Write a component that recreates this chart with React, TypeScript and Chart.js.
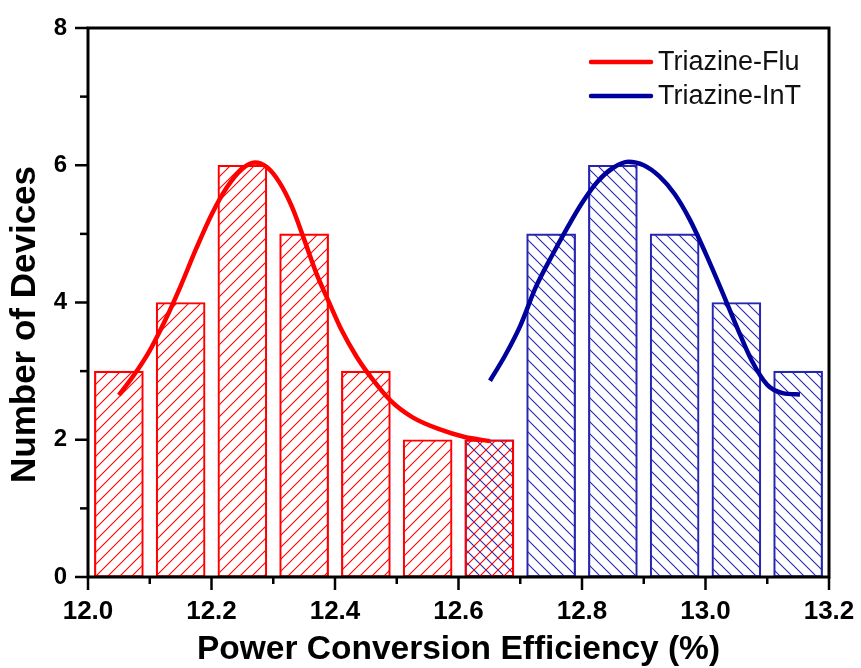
import React, { useEffect, useRef } from "react";
import { Chart, registerables } from "chart.js";

Chart.register(...registerables);

// ---- data ----
const redCenters = [12.05, 12.15, 12.25, 12.35, 12.45, 12.55, 12.65];
const redCounts = [3, 4, 6, 5, 3, 2, 2];
const blueCenters = [12.65, 12.75, 12.85, 12.95, 13.05, 13.15];
const blueCounts = [2, 5, 6, 5, 4, 3];

const redFitX = [12.05, 12.075, 12.1, 12.125, 12.15, 12.175, 12.2, 12.225, 12.25, 12.27, 12.29, 12.31, 12.33, 12.35, 12.37, 12.39, 12.41, 12.435, 12.46, 12.49, 12.525, 12.57, 12.61, 12.651];
const redFitY = [2.65, 2.95, 3.3, 3.74, 4.24, 4.78, 5.28, 5.68, 5.95, 6.04, 5.97, 5.75, 5.4, 4.92, 4.42, 4.01, 3.61, 3.21, 2.89, 2.57, 2.33, 2.15, 2.04, 1.98];
const blueFitX = [12.651, 12.675, 12.7, 12.725, 12.75, 12.775, 12.8, 12.825, 12.85, 12.875, 12.9, 12.925, 12.95, 12.975, 13.0, 13.025, 13.05, 13.075, 13.1, 13.125, 13.153];
const blueFitY = [2.86, 3.22, 3.66, 4.22, 4.66, 5.07, 5.45, 5.76, 5.96, 6.05, 6.0, 5.84, 5.58, 5.2, 4.72, 4.2, 3.66, 3.15, 2.8, 2.68, 2.66];

const seriesNames = ["Triazine-Flu", "Triazine-InT"];
const xTitle = "Power Conversion Efficiency (%)";
const yTitle = "Number of Devices";
const xTickMin = 12.0;
const xTickMax = 13.2;
const xTickStep = 0.2;
const yTickMin = 0;
const yTickMax = 8;
const yTickStep = 2;

const RED = "#FF0000";
const BLUE = "#00009C";
const BLUE_BAR = "#2626B0";
const FONT = "'Liberation Sans', Arial, sans-serif";

function makeHatch(color: string, forward: boolean): CanvasPattern | string {
  const s = 12;
  const c = document.createElement("canvas");
  c.width = s;
  c.height = s;
  const g = c.getContext("2d");
  if (!g) return "transparent";
  g.strokeStyle = color;
  g.lineWidth = 1.1;
  g.beginPath();
  if (forward) {
    g.moveTo(-s, s); g.lineTo(s, -s);
    g.moveTo(0, s); g.lineTo(s, 0);
    g.moveTo(0, 2 * s); g.lineTo(2 * s, 0);
  } else {
    g.moveTo(-s, 0); g.lineTo(s, 2 * s);
    g.moveTo(0, 0); g.lineTo(s, s);
    g.moveTo(0, -s); g.lineTo(2 * s, s);
  }
  g.stroke();
  return g.createPattern(c, "repeat") || "transparent";
}

const framePlugin = {
  id: "frameTicksLegend",
  afterDraw(chart: any) {
    const { ctx, chartArea, scales } = chart;
    const { left, right, top, bottom } = chartArea;
    const x = scales.x;
    const y = scales.y;
    ctx.save();
    ctx.strokeStyle = "#000";
    ctx.lineCap = "butt";
    ctx.lineWidth = 3;
    ctx.strokeRect(left, top, right - left, bottom - top);

    ctx.lineWidth = 2.5;
    const line = (x1: number, y1: number, x2: number, y2: number) => {
      ctx.beginPath();
      ctx.moveTo(x1, y1);
      ctx.lineTo(x2, y2);
      ctx.stroke();
    };
    const xt = x.ticks.map((t: any) => t.value);
    xt.forEach((v: number, i: number) => {
      const px = x.getPixelForValue(v);
      line(px, bottom, px, bottom + 13);
      if (i < xt.length - 1) {
        const pm = x.getPixelForValue((v + xt[i + 1]) / 2);
        line(pm, bottom, pm, bottom + 7);
      }
    });
    const yt = y.ticks.map((t: any) => t.value);
    yt.forEach((v: number, i: number) => {
      const py = y.getPixelForValue(v);
      line(left, py, left - 13, py);
      if (i < yt.length - 1) {
        const pm = y.getPixelForValue((v + yt[i + 1]) / 2);
        line(left, pm, left - 8, pm);
      }
    });

    // y title
    ctx.save();
    ctx.translate(25, (top + bottom) / 2 + 22);
    ctx.rotate(-Math.PI / 2);
    ctx.font = `bold 35px ${FONT}`;
    ctx.fillStyle = "#000";
    ctx.textAlign = "center";
    ctx.textBaseline = "middle";
    ctx.fillText(yTitle, 0, 0);
    ctx.restore();

    // legend
    const legendItems = [
      { label: chart.data.datasets[2].label, color: chart.data.datasets[2].borderColor },
      { label: chart.data.datasets[3].label, color: chart.data.datasets[3].borderColor },
    ];
    ctx.font = `27px ${FONT}`;
    ctx.textBaseline = "middle";
    ctx.textAlign = "left";
    legendItems.forEach((it, i) => {
      const ly = top + 34 + i * 34;
      ctx.strokeStyle = it.color;
      ctx.lineWidth = 4.5;
      ctx.lineCap = "round";
      line(right - 238, ly, right - 178, ly);
      ctx.fillStyle = "#111";
      ctx.fillText(it.label, right - 171, ly + 1);
    });
    ctx.restore();
  },
};

export default function App() {
  const ref = useRef<HTMLCanvasElement | null>(null);
  useEffect(() => {
    if (!ref.current) return;
    const redHatch = makeHatch(RED, true);
    const blueHatch = makeHatch(BLUE_BAR, false);
    const chart = new Chart(ref.current, {
      type: "bar",
      data: {
        datasets: [
          {
            type: "bar",
            label: seriesNames[0] + " counts",
            data: redCenters.map((c, i) => ({ x: c, y: redCounts[i] })),
            backgroundColor: redHatch as any,
            borderColor: RED,
            borderWidth: 1.5,
            borderSkipped: false,
            barThickness: 49,
            grouped: false,
            order: 1,
          } as any,
          {
            type: "bar",
            label: seriesNames[1] + " counts",
            data: blueCenters.map((c, i) => ({ x: c, y: blueCounts[i] })),
            backgroundColor: blueHatch as any,
            borderColor: BLUE_BAR,
            borderWidth: 1.5,
            borderSkipped: false,
            barThickness: 49,
            grouped: false,
            order: 2,
          } as any,
          {
            type: "line",
            label: seriesNames[0],
            data: redFitX.map((v, i) => ({ x: v, y: redFitY[i] })),
            borderColor: RED,
            backgroundColor: RED,
            borderWidth: 4.5,
            pointRadius: 0,
            tension: 0.4,
            cubicInterpolationMode: "monotone",
            fill: false,
            order: 0,
          } as any,
          {
            type: "line",
            label: seriesNames[1],
            data: blueFitX.map((v, i) => ({ x: v, y: blueFitY[i] })),
            borderColor: BLUE,
            backgroundColor: BLUE,
            borderWidth: 4.5,
            pointRadius: 0,
            tension: 0.4,
            cubicInterpolationMode: "monotone",
            fill: false,
            order: 0,
          } as any,
        ],
      },
      options: {
        responsive: false,
        animation: false,
        devicePixelRatio: 1,
        layout: { padding: { top: 28, right: 32, left: 0, bottom: 0 } },
        plugins: { legend: { display: false }, tooltip: { enabled: false } },
        scales: {
          x: {
            type: "linear",
            offset: false,
            min: xTickMin,
            max: xTickMax,
            grid: { display: false, drawTicks: false },
            border: { display: false },
            ticks: {
              stepSize: xTickStep,
              padding: 19,
              color: "#000",
              font: { family: FONT, size: 26, weight: "bold" },
              callback: (v: any) => Number(v).toFixed(1),
              maxRotation: 0,
              autoSkip: false,
            },
            title: {
              display: true,
              text: xTitle,
              color: "#000",
              font: { family: FONT, size: 33.5, weight: "bold", lineHeight: 1 },
              padding: { top: 0, bottom: 1 },
            },
            afterFit: (s: any) => {
              s.height = 91;
              s.paddingLeft = 0;
              s.paddingRight = 0;
            },
          },
          y: {
            min: yTickMin,
            max: yTickMax,
            grid: { display: false, drawTicks: false },
            border: { display: false },
            ticks: {
              stepSize: yTickStep,
              padding: 21,
              color: "#000",
              font: { family: FONT, size: 24, weight: "bold" },
            },
            title: { display: false },
            afterFit: (s: any) => {
              s.width = 88;
              s.paddingTop = 0;
              s.paddingBottom = 0;
            },
          },
        },
      } as any,
      plugins: [framePlugin],
    });
    return () => chart.destroy();
  }, []);
  return (
    <div style={{ position: "fixed", left: 0, top: 0, width: 861, height: 668, background: "#fff" }}>
      <canvas ref={ref} width={861} height={668} style={{ width: 861, height: 668 }} />
    </div>
  );
}
